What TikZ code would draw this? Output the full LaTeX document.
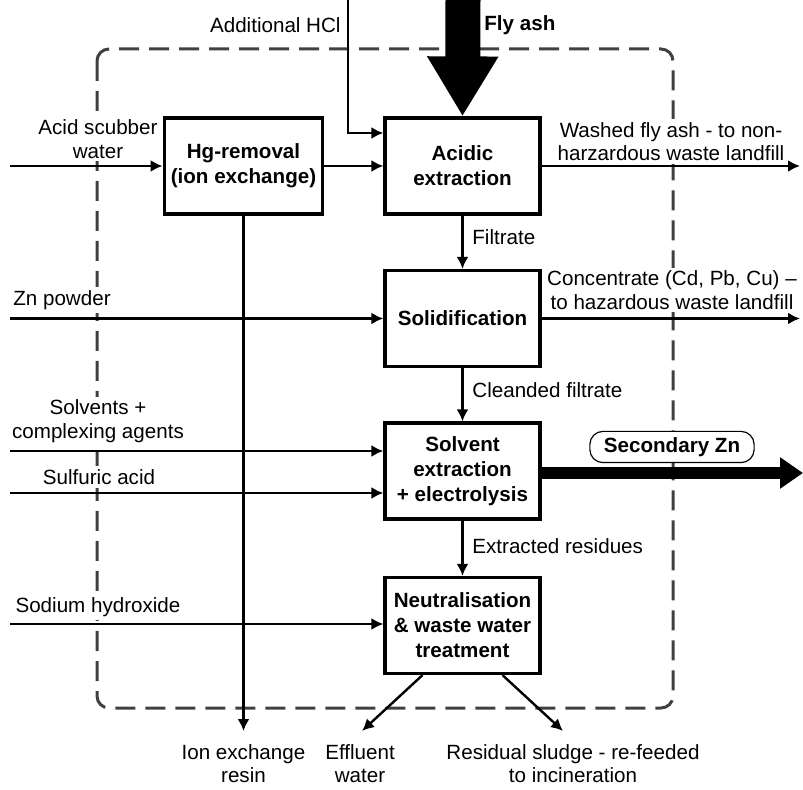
\documentclass[tikz,border=0pt]{standalone}
\usepackage{fontspec}
\setmainfont{Liberation Sans}
\usepackage{tikz}
\usetikzlibrary{arrows.meta}
\tikzset{
  process/.style={draw, line width=1.6pt, fill=white, align=center,
    minimum width=77.5pt, minimum height=48pt,
    font=\bfseries\fontsize{10.3}{12.5}\selectfont},
  lbl/.style={align=center, fill=white, inner sep=1.5pt,
    font=\fontsize{10.3}{11.75}\selectfont},
  flow/.style={line width=1.2pt, -{Latex[length=6pt,width=6pt]}},
  boundary/.style={draw=black!75, line width=1.5pt, rounded corners=6pt,
    dash pattern=on 10pt off 5pt},
  bigflow/.style={line width=17.5pt, -{Triangle[length=30pt,width=33.5pt]}},
  znflow/.style={line width=6pt, -{Triangle[length=11.5pt,width=15pt]}},
  product/.style={draw, line width=0.6pt, fill=white, rounded corners=6.5pt,
    inner xsep=7pt, inner ysep=3pt, font=\bfseries\fontsize{10.3}{12}\selectfont}
}

\begin{document}
\begin{tikzpicture}[x=0.5pt, y=-0.5pt]
\useasboundingbox (0,0) rectangle (803,790);
\draw[boundary] (97,49) rectangle (673,708);

% process steps
\node[process] at (243.5,166) (hg) {Hg-removal\\(ion exchange)};
\node[process] at (462.5,166) (acid) {Acidic\\extraction};
\node[process] at (462.5,318.5) (solid) {Solidification};
\node[process] at (462.5,471) (solv) {Solvent\\extraction\\+ electrolysis};
\node[process] at (462.5,625.5) (neut) {Neutralisation\\\& waste water\\treatment};

% inputs
\coordinate (scrub) at (10,166);
\coordinate (hcltop) at (348,0);
\coordinate (hclin) at (348,133);
\coordinate (ashtop) at (463,0);
\coordinate (zn) at (10,318.5);
\coordinate (solvin) at (10,451);
\coordinate (sulf) at (10,493);
\coordinate (naoh) at (10,624);

\node[lbl] at (98,139) (scrublbl) {Acid scubber\\water};
\node[lbl, anchor=east] at (344,25) (hcllbl) {Additional HCl};
\node[lbl, anchor=west, font=\bfseries\fontsize{10.3}{12}\selectfont] at (481,25) (ashlbl) {Fly ash};
\node[lbl] at (62,300) (znlbl) {Zn powder};
\node[lbl] at (98,421) (solvlbl) {Solvents +\\complexing agents};
\node[lbl] at (99,477) (sulflbl) {Sulfuric acid};
\node[lbl] at (98,607) (naohlbl) {Sodium hydroxide};

\draw[flow] (scrub) -- (hg.west);
\draw[flow] (hg) -- (acid);
\draw[flow] (hcltop) -- (hclin) -- (acid.west |- hclin);
\draw[bigflow] (ashtop) -- (acid.north);
\draw[flow] (zn) -- (solid.west);
\draw[flow] (solvin) -- (solv.west |- solvin);
\draw[flow] (sulf) -- (solv.west |- sulf);
\draw[flow] (naoh) -- (neut.west |- naoh);

% main line
\draw[flow] (acid) -- (solid);
\draw[flow] (solid) -- (solv);
\draw[flow] (solv) -- (neut);
\node[lbl, anchor=west] at (469,237) (filtlbl) {Filtrate};
\node[lbl, anchor=west] at (469,390) (cleanlbl) {Cleanded filtrate};
\node[lbl, anchor=west] at (469,546) (extrlbl) {Extracted residues};

% outputs
\coordinate (washout) at (800,166);
\coordinate (concout) at (800,318.5);
\coordinate (znout) at (803,473);
\coordinate (resin) at (243.5,731);
\coordinate (effl) at (362,731);
\coordinate (sludge) at (563,731);

\node[lbl] at (671,141.5) (washlbl) {Washed fly ash - to non-\\harzardous waste landfill};
\node[lbl] at (672,290) (conclbl) {Concentrate (Cd, Pb, Cu) --\\to hazardous waste landfill};
\node[product] at (672,447) (znlbl) {Secondary Zn};

\draw[flow] (acid) -- (washout);
\draw[flow] (solid) -- (concout);
\draw[znflow] (solv.east |- znout) -- (znout);
\draw[flow] (hg) -- (resin);
\draw[flow] ([xshift=-20pt]neut.south) -- (effl);
\draw[flow] ([xshift=20pt]neut.south) -- (sludge);

\node[lbl, fill=none] at (243.5,763.5) (resinlbl) {Ion exchange\\resin};
\node[lbl, fill=none] at (360,763.5) (effllbl) {Effluent\\water};
\node[lbl, fill=none] at (573,763.5) (sludgelbl) {Residual sludge - re-feeded\\to incineration};
\end{tikzpicture}
\end{document}
